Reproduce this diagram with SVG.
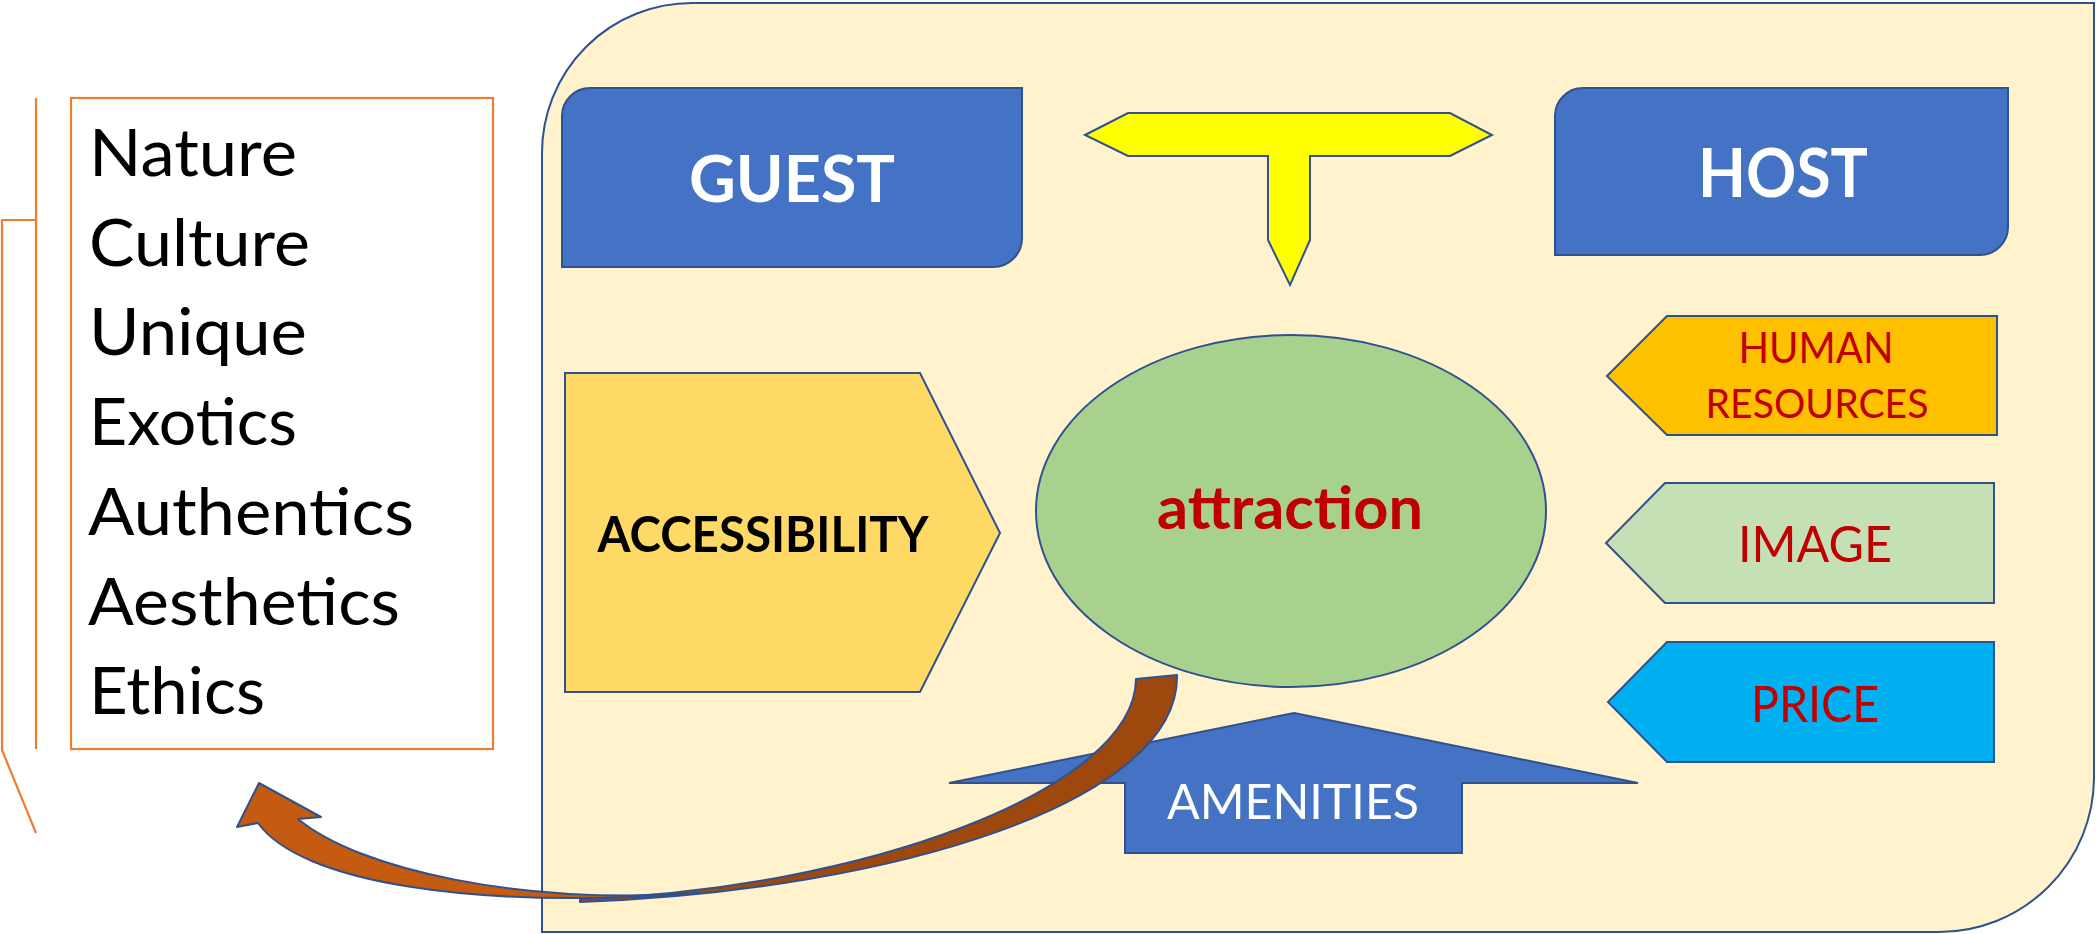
<svg xmlns="http://www.w3.org/2000/svg" width="2096" height="934" viewBox="0 0 2096 934">
<style>
.ol{stroke:#2F528F;stroke-width:2;stroke-linejoin:miter}
.br{stroke:#2F528F;stroke-width:2;stroke-linejoin:round}
.t{font-family:Lato,"Open Sans","Liberation Sans",sans-serif}
.list{font-size:65px;fill:#000}
.red{fill:#C00000}
.wb{fill:#fff;font-weight:bold}
.or{fill:none;stroke:#ED7D31;stroke-width:2.2}
</style>
<rect width="2096" height="934" fill="#fff"/>
<g id="frame">
<path class="ol" fill="#FFF2CC" d="M692,3 H2094 V778 A155,155 0 0 1 1939,932 H542 V153 A150,150 0 0 1 692,3 Z"/>
</g>
<g id="list">
<rect x="71" y="98" width="422" height="651" fill="#fff" stroke="#ED7D31" stroke-width="2.2"/>
<text class="t list" x="89" y="176" textLength="208" lengthAdjust="spacingAndGlyphs">Nature</text>
<text class="t list" x="89" y="266" textLength="221" lengthAdjust="spacingAndGlyphs">Culture</text>
<text class="t list" x="89" y="355" textLength="218" lengthAdjust="spacingAndGlyphs">Unique</text>
<text class="t list" x="89" y="445" textLength="208" lengthAdjust="spacingAndGlyphs">Exotics</text>
<text class="t list" x="88" y="535" textLength="326" lengthAdjust="spacingAndGlyphs">Authentics</text>
<text class="t list" x="88" y="625" textLength="312" lengthAdjust="spacingAndGlyphs">Aesthetics</text>
<text class="t list" x="89" y="714" textLength="176" lengthAdjust="spacingAndGlyphs">Ethics</text>
</g>
<g id="guest">
<path class="ol" fill="#4472C4" d="M590,88 H1022 V238 A29,29 0 0 1 993,267 H562 V116 A28,28 0 0 1 590,88 Z"/>
<text class="t wb" x="792" y="202" font-size="65" text-anchor="middle" textLength="206" lengthAdjust="spacingAndGlyphs">GUEST</text>
</g>
<g id="host">
<path class="ol" fill="#4472C4" d="M1583,88 H2008 V227 A28,28 0 0 1 1980,255 H1555 V116 A28,28 0 0 1 1583,88 Z"/>
<text class="t wb" x="1783" y="197" font-size="66" text-anchor="middle" textLength="170" lengthAdjust="spacingAndGlyphs">HOST</text>
</g>
<g id="accessibility">
<polygon class="ol" fill="#FFD966" points="565,373 920,373 1000,533 920,692 565,692"/>
<text class="t" x="763" y="552" font-size="49" font-weight="bold" fill="#000" text-anchor="middle" textLength="331" lengthAdjust="spacingAndGlyphs">ACCESSIBILITY</text>
</g>
<g id="attraction">
<ellipse class="ol" fill="#A9D18E" cx="1291" cy="511" rx="255" ry="176"/>
<text class="t red" x="1290" y="529" font-size="60" font-weight="bold" text-anchor="middle" textLength="266" lengthAdjust="spacingAndGlyphs">attraction</text>
</g>
<g id="human-resources">
<polygon class="ol" fill="#FFC000" points="1607,376 1667,316 1997,316 1997,435 1667,435"/>
<text class="t red" x="1816" y="363" font-size="42" text-anchor="middle" textLength="155" lengthAdjust="spacingAndGlyphs">HUMAN</text>
<text class="t red" x="1817" y="418" font-size="41" text-anchor="middle" textLength="223" lengthAdjust="spacingAndGlyphs">RESOURCES</text>
</g>
<g id="image">
<polygon class="ol" fill="#C5E0B4" points="1606,543 1665,483 1994,483 1994,603 1665,603"/>
<text class="t red" x="1815" y="562" font-size="50" text-anchor="middle" textLength="154" lengthAdjust="spacingAndGlyphs">IMAGE</text>
</g>
<g id="price">
<polygon class="ol" fill="#00B0F0" points="1608,702 1667,642 1994,642 1994,762 1667,762"/>
<text class="t red" x="1815" y="722" font-size="51" text-anchor="middle" textLength="128" lengthAdjust="spacingAndGlyphs">PRICE</text>
</g>
<g id="amenities">
<polygon class="ol" fill="#4472C4" points="1294,713 1638,783 1462,783 1462,853 1125,853 1125,783 949,783"/>
<text class="t" x="1293" y="819" font-size="49" fill="#fff" text-anchor="middle" textLength="252" lengthAdjust="spacingAndGlyphs">AMENITIES</text>
</g>
<g id="connectors">
<polygon class="ol" fill="#FFFF00" points="1085,135 1128,113 1450,113 1492,135 1450,156 1310,156 1310,240 1290,285 1268,240 1268,156 1128,156"/>
<path class="br" fill="#9E480E" d="M1177,675 C1180,800 900,890 580,902 L580,899 C860,890 1135,790 1136,679 Z"/>
<path class="br" fill="#C55A11" d="M259,783 L321,817 L298,819 C360,870 520,905 700,893 C470,910 300,882 258,823 L237,827 Z"/>
<path class="or" d="M36,98 V749"/>
<path class="or" d="M36,220 H2 V750 L36,833"/>
</g>
</svg>
